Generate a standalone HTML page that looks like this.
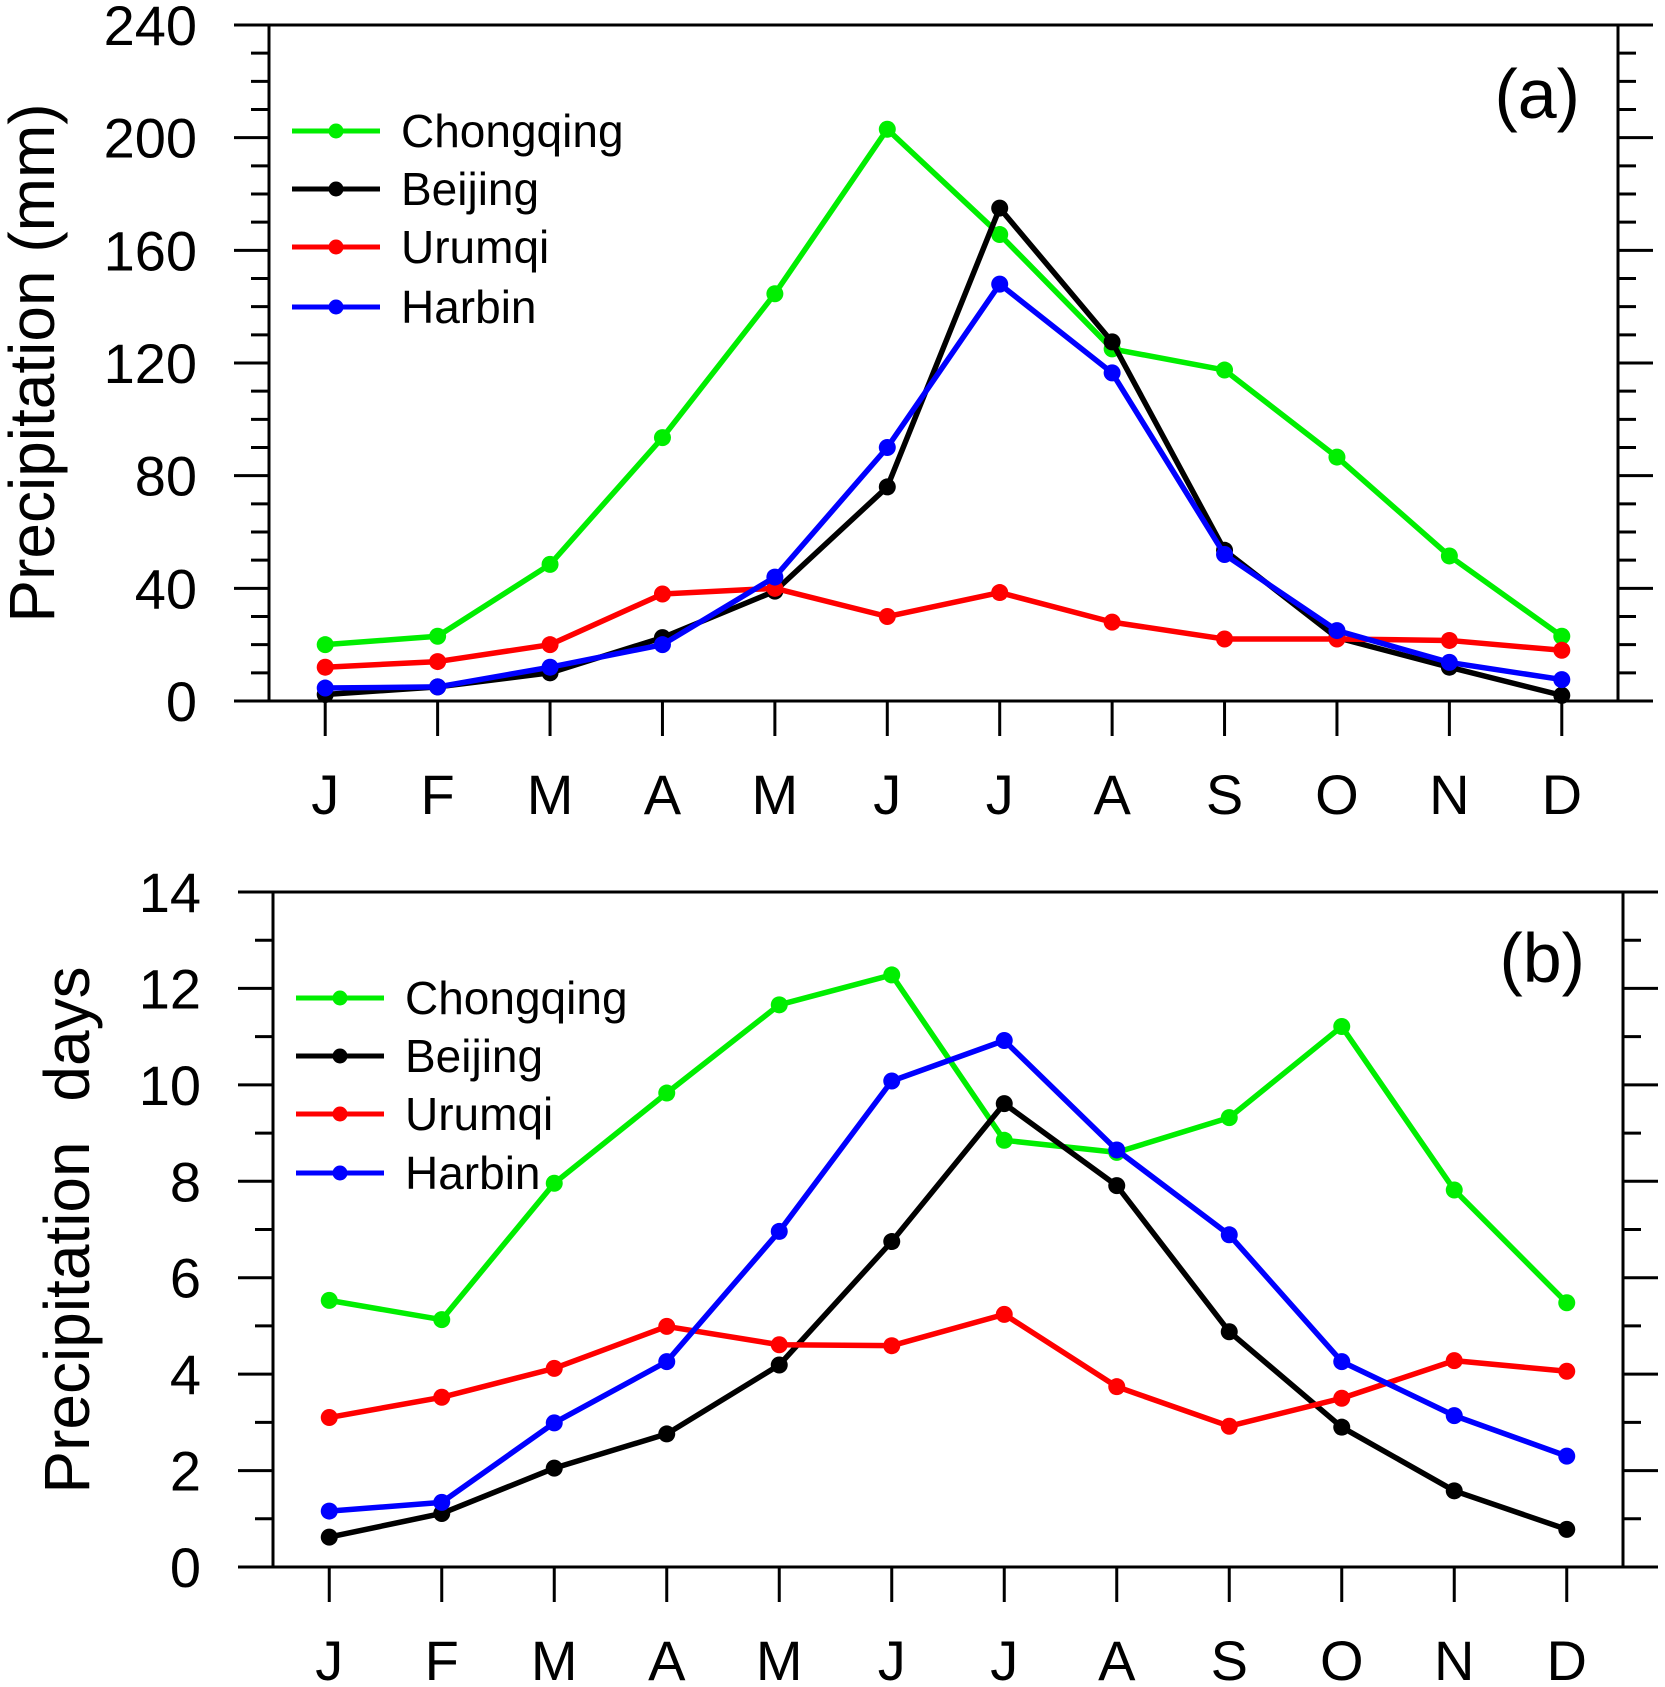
<!DOCTYPE html>
<html><head><meta charset="utf-8"><style>
html,body{margin:0;padding:0;background:#fff;}
svg{display:block;font-family:"Liberation Sans",Arial,sans-serif;}
</style></head><body>
<svg id="chart" width="1665" height="1687" viewBox="0 0 1665 1687" xmlns="http://www.w3.org/2000/svg"></svg>
<script>
const months = ["J","F","M","A","M","J","J","A","S","O","N","D"];
const seriesNames = ["Chongqing","Beijing","Urumqi","Harbin"];
const seriesColors = ["#00ee00","#000000","#ff0000","#0000ff"];
const amountTicks = [0,40,80,120,160,200,240];
const daysTicks = [0,2,4,6,8,10,12,14];
const amountChongqing = [20,23,48.5,93.5,144.6,203,165.6,125,117.5,86.6,51.5,23];
const amountBeijing = [2.3,5,10,22.5,39,76,175,127.5,53.5,22.5,12,2];
const amountUrumqi = [12,14,20,38,40,30,38.5,28,22,22,21.5,18];
const amountHarbin = [4.6,5,12,20,44,90,148,116.5,52,25,13.7,7.6];
const daysChongqing = [5.53,5.13,7.96,9.83,11.66,12.28,8.85,8.6,9.32,11.21,7.82,5.48];
const daysBeijing = [0.62,1.11,2.05,2.76,4.19,6.75,9.61,7.91,4.88,2.9,1.58,0.78];
const daysUrumqi = [3.1,3.52,4.12,4.99,4.61,4.59,5.24,3.74,2.92,3.5,4.28,4.06];
const daysHarbin = [1.16,1.34,2.99,4.26,6.96,10.08,10.92,8.65,6.89,4.26,3.14,2.3];

const NS="http://www.w3.org/2000/svg";
const svg=document.getElementById('chart');
function el(tag,attrs,parent,text){const e=document.createElementNS(NS,tag);for(const k in attrs)e.setAttribute(k,attrs[k]);if(text!==undefined)e.textContent=text;(parent||svg).appendChild(e);return e;}

function panel(cfg){
  const g=el('g',{});
  
  
  const L=cfg.left,R=cfg.right,T=cfg.top,B=cfg.bottom;
  const xs=m=>L+(m+1-0.5)*(R-L)/12;
  const ys=v=>B-(v-cfg.min)/(cfg.max-cfg.min)*(B-T);
  const fr=el('rect',{x:L,y:T,width:R-L,height:B-T,fill:'none',stroke:'#000','stroke-width':3},g);
  
  
  for(let v=cfg.min;v<=cfg.max+1e-9;v+=cfg.minor){
    const y=ys(v);
    const major=Math.abs((v-cfg.min)/cfg.majorStep-Math.round((v-cfg.min)/cfg.majorStep))<1e-6;
    const len=major?35:18;
    el('line',{x1:L-len,y1:y,x2:L,y2:y,stroke:'#000','stroke-width':3},g);
    el('line',{x1:R,y1:y,x2:R+len,y2:y,stroke:'#000','stroke-width':3},g);
  }
  cfg.ticks.forEach(v=>{
    const t=el('text',{x:L-72,y:ys(v)+20,'text-anchor':'end','font-size':56},g,String(v));
    
    
  });
  months.forEach((m,i)=>{
    const x=xs(i);
    el('line',{x1:x,y1:B,x2:x,y2:B+35,stroke:'#000','stroke-width':3},g);
    const t=el('text',{x:x,y:B+113,'text-anchor':'middle','font-size':56},g,m);
    
    
  });
  const tt=el('text',{x:0,y:0,'text-anchor':'middle','font-size':cfg.titleSize,'word-spacing':cfg.ws||0,transform:`translate(${cfg.titleX},${cfg.titleY}) rotate(-90)`},g,cfg.title);
  
  
  const pl=el('text',{x:R-38,y:cfg.labelY,'text-anchor':'end','font-size':70},g,cfg.label);
  
  
  cfg.data.forEach((arr,si)=>{
    const sg=el('g',{},g);
    
    
    const pts=arr.map((v,i)=>xs(i)+','+ys(v)).join(' ');
    const pl2=el('polyline',{points:pts,fill:'none',stroke:seriesColors[si],'stroke-width':5.5,'stroke-linejoin':'round'},sg);
    
    
    arr.forEach((v,i)=>{
      const c=el('circle',{cx:xs(i),cy:ys(v),r:8.5,fill:seriesColors[si]},sg);
      
      
    });
  });
  const lg=el('g',{},g);
  
  
  seriesNames.forEach((n,i)=>{
    const y=cfg.legendY[i];
    const e=el('g',{},lg);
    
    
    el('line',{x1:cfg.legendX,y1:y,x2:cfg.legendX+88,y2:y,stroke:seriesColors[i],'stroke-width':5},e);
    el('circle',{cx:cfg.legendX+44,cy:y,r:7.5,fill:seriesColors[i]},e);
    el('text',{x:cfg.legendX+109,y:y+16,'font-size':46},e,n);
  });
}
panel({name:'panel-a-precipitation-amount',left:269,right:1618,top:25,bottom:701,min:0,max:240,majorStep:40,minor:10,ticks:amountTicks,
  title:'Precipitation (mm)',titleSize:64,titleX:54,titleY:363,label:'(a)',labelY:118,
  data:[amountChongqing,amountBeijing,amountUrumqi,amountHarbin],legendX:292,legendY:[131,189,247,307]});
panel({name:'panel-b-precipitation-days',left:273,right:1623,top:892,bottom:1567,min:0,max:14,majorStep:2,minor:1,ticks:daysTicks,
  title:'Precipitation days',titleSize:64,ws:22,titleX:89,titleY:1230,label:'(b)',labelY:982,
  data:[daysChongqing,daysBeijing,daysUrumqi,daysHarbin],legendX:296,legendY:[998,1056,1114,1173]});
</script>
</body></html>
